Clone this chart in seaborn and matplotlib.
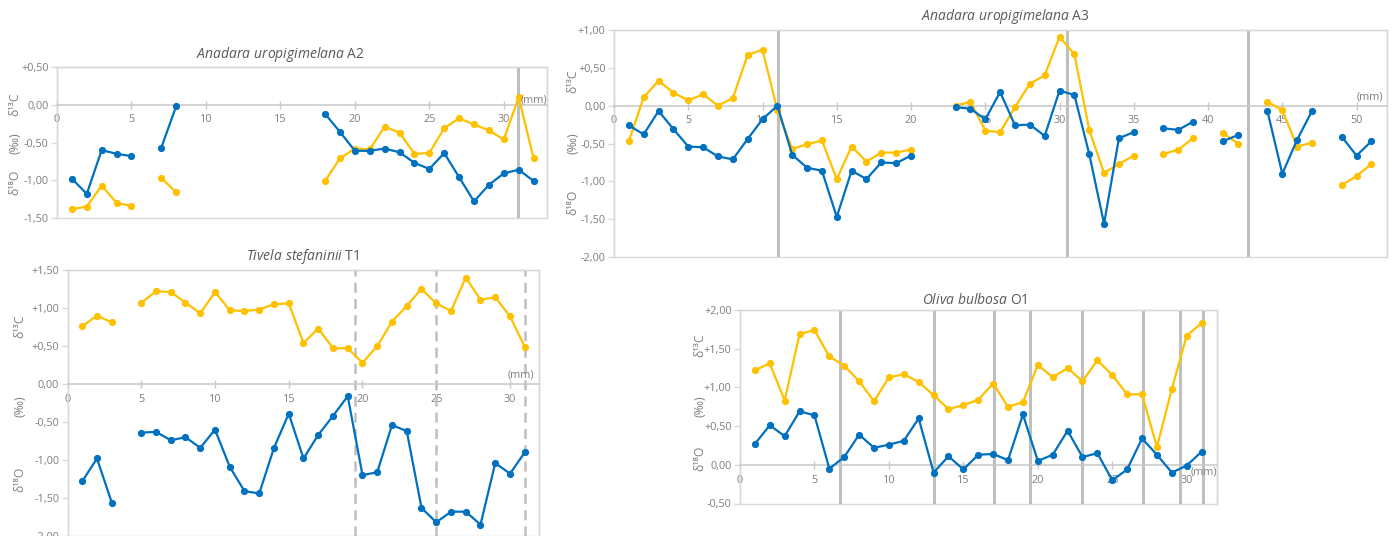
import numpy as np
import pandas as pd
import matplotlib
matplotlib.use("Agg")
import matplotlib.pyplot as plt
import seaborn as sns
from matplotlib.ticker import FuncFormatter, MultipleLocator
from matplotlib.patches import Rectangle

nan = np.nan

# ---- Anadara uropigimelana A2 ----
a2_mm = list(range(1, 33))
a2_d13c = [-1.38, -1.35, -1.07, -1.30, -1.34, nan, -0.97, -1.16,
           nan, nan, nan, nan, nan, nan, nan, nan, nan,
           -1.01, -0.71, -0.58, -0.59, -0.29, -0.37, -0.65, -0.64, -0.31,
           -0.18, -0.26, -0.34, -0.46, 0.10, -0.71]
a2_d18o = [-0.98, -1.18, -0.60, -0.65, -0.68, nan, -0.57, -0.02,
           nan, nan, nan, nan, nan, nan, nan, nan, nan,
           -0.12, -0.36, -0.61, -0.61, -0.58, -0.63, -0.77, -0.85, -0.64,
           -0.96, -1.28, -1.06, -0.91, -0.86, -1.01]
a2_marks = [30.95]

# ---- Tivela stefaninii T1 ----
t1_mm = list(range(1, 32))
t1_d13c = [0.76, 0.90, 0.81, nan, 1.07, 1.22, 1.21, 1.07, 0.93, 1.21,
           0.97, 0.96, 0.98, 1.05, 1.06, 0.54, 0.73, 0.47, 0.47, 0.28,
           0.50, 0.82, 1.03, 1.25, 1.06, 0.96, 1.40, 1.11, 1.14, 0.89, 0.49]
t1_d18o = [-1.28, -0.98, -1.56, nan, -0.64, -0.63, -0.74, -0.70, -0.84, -0.60,
           -1.09, -1.41, -1.44, -0.84, -0.39, -0.98, -0.67, -0.42, -0.16, -1.20,
           -1.16, -0.54, -0.62, -1.63, -1.82, -1.68, -1.68, -1.85, -1.04, -1.18, -0.90]
t1_marks = [19.5, 25.0, 31.05]

# ---- Anadara uropigimelana A3 ----
a3_mm = list(range(1, 52))
a3_d13c = [-0.47, 0.11, 0.33, 0.17, 0.07, 0.15, 0.00, 0.10, 0.67, 0.74,
           -0.06, -0.57, -0.51, -0.46, -0.97, -0.54, -0.74, -0.62, -0.62, -0.58,
           nan, nan, 0.00, 0.05, -0.33, -0.35, -0.02, 0.29, 0.40, 0.91,
           0.68, -0.32, -0.89, -0.77, -0.66, nan, -0.64, -0.58, -0.43, nan,
           -0.36, -0.50, nan, 0.05, -0.06, -0.54, -0.49, nan, -1.05, -0.93, -0.77]
a3_d18o = [-0.26, -0.38, -0.07, -0.31, -0.54, -0.55, -0.67, -0.71, -0.44, -0.18,
           0.00, -0.65, -0.82, -0.86, -1.47, -0.86, -0.97, -0.75, -0.76, -0.66,
           nan, nan, -0.02, -0.04, -0.18, 0.18, -0.26, -0.25, -0.40, 0.20,
           0.14, -0.64, -1.56, -0.43, -0.35, nan, -0.30, -0.32, -0.21, nan,
           -0.47, -0.39, nan, -0.07, -0.90, -0.45, -0.07, nan, -0.41, -0.66, -0.47]
a3_marks = [11.05, 30.5, 42.72]

# ---- Oliva bulbosa O1 ----
o1_mm = list(range(1, 32))
o1_d13c = [1.22, 1.31, 0.83, 1.69, 1.74, 1.40, 1.28, 1.08, 0.82, 1.13,
           1.17, 1.07, 0.90, 0.72, 0.77, 0.84, 1.05, 0.75, 0.81, 1.29,
           1.13, 1.25, 1.08, 1.35, 1.16, 0.91, 0.91, 0.23, 0.98, 1.67, 1.83]
o1_d18o = [0.27, 0.51, 0.37, 0.69, 0.64, -0.05, 0.10, 0.39, 0.22, 0.26,
           0.31, 0.60, -0.10, 0.11, -0.06, 0.13, 0.14, 0.06, 0.65, 0.05,
           0.13, 0.44, 0.10, 0.15, -0.20, -0.06, 0.34, 0.13, -0.10, -0.01, 0.17]
o1_marks = [6.7, 13.05, 17.05, 19.5, 23.0, 27.05, 29.55, 31.1]

YELLOW = "#FFC000"
BLUE = "#0070C0"
FRAME = "#D9D9D9"
ZERO = "#C8C8C8"
MARK = "#BFBFBF"
TICK = "#7F7F7F"
TITLE = "#595959"

sns.set_theme(style="white")
plt.rcParams["font.family"] = ["Open Sans", "DejaVu Sans"]
plt.rcParams["mathtext.fontset"] = "custom"
plt.rcParams["mathtext.it"] = "Open Sans:italic"
plt.rcParams["mathtext.rm"] = "Open Sans"

W, H = 1392, 536
fig = plt.figure(figsize=(W / 100, H / 100), dpi=100)


def fmt(v, _):
    if abs(v) < 1e-9:
        return "0,00"
    return f"{v:+.2f}".replace(".", ",")


def long_table(mm, d13c, d18o):
    rows = []
    for name, vals in (("d13C", d13c), ("d18O", d18o)):
        seg, gap = 0, True
        for x, v in zip(mm, vals):
            if np.isnan(v):
                gap = True
                continue
            if gap:
                seg += 1
                gap = False
            rows.append((x, v, name, seg))
    return pd.DataFrame(rows, columns=["mm", "value", "isotope", "segment"])


def panel(box, mm, d13c, d18o, xmax, ylim, marks, dashed,
          title, title_xy, ylab_x, ylab_ys, mm_xy):
    left, top, right, bottom = box
    ax = fig.add_axes([left / W, 1 - bottom / H, (right - left) / W, (bottom - top) / H])
    ax.set_facecolor("none")
    df = long_table(mm, d13c, d18o)
    sns.lineplot(data=df, x="mm", y="value", hue="isotope", units="segment",
                 estimator=None, sort=False,
                 palette={"d13C": YELLOW, "d18O": BLUE},
                 hue_order=["d13C", "d18O"],
                 marker="o", markersize=5.2, markeredgewidth=0,
                 linewidth=1.6, legend=False, ax=ax, zorder=3)
    for m in marks:
        ax.axvline(m, color=MARK, lw=2.2 if not dashed else 1.8,
                   ls=(0, (4, 2.5)) if dashed else "-", zorder=2)
    ax.set_xlim(0, xmax)
    ax.set_ylim(*ylim)
    ax.set_xlabel("")
    ax.set_ylabel("")
    ax.xaxis.set_major_locator(MultipleLocator(5))
    ax.yaxis.set_major_locator(MultipleLocator(0.5))
    ax.yaxis.set_major_formatter(FuncFormatter(fmt))
    for s in ("top", "right", "left"):
        ax.spines[s].set_color(FRAME)
        ax.spines[s].set_linewidth(1)
    ax.spines["bottom"].set_position(("data", 0))
    ax.spines["bottom"].set_color(ZERO)
    ax.spines["bottom"].set_linewidth(1.1)
    ax.add_patch(Rectangle((0, 0), 1, 1, transform=ax.transAxes, fill=False,
                           ec=FRAME, lw=1, zorder=0.5, clip_on=False))
    ax.tick_params(axis="x", direction="inout", length=6, width=1, color=ZERO,
                   labelcolor=TICK, labelsize=7.8, pad=4, bottom=True)
    ax.tick_params(axis="y", direction="out", length=4, width=1, color=FRAME,
                   labelcolor=TICK, labelsize=7.8, pad=2, left=True)
    ax.grid(False)

    fig.text(title_xy[0] / W, 1 - title_xy[1] / H, title, ha="center", va="center",
             fontsize=10, color=TITLE)
    for lab, y in zip(["δ¹³C", "(‰)", "δ¹⁸O"], ylab_ys):
        fig.text(ylab_x / W, 1 - y / H, lab, rotation=90, ha="center", va="center",
                 fontsize=8.8, color=TICK)
    fig.text(mm_xy[0] / W, 1 - mm_xy[1] / H, "(mm)", ha="center", va="center",
             fontsize=7.8, color=TICK)
    return ax


panel((57, 67, 547, 218), a2_mm, a2_d13c, a2_d18o, 32.9, (-1.5, 0.5), a2_marks, False,
      r"$\it{Anadara\ uropigimelana}$ A2", (280, 55), 15, (104, 143, 182), (534, 100))

panel((67.5, 270, 539.5, 536), t1_mm, t1_d13c, t1_d18o, 32.0, (-2.0, 1.5), t1_marks, True,
      r"$\it{Tivela\ stefaninii}$ T1", (303, 256), 20, (326, 406, 479), (521, 375))

panel((614, 30, 1387, 257), a3_mm, a3_d13c, a3_d18o, 52.05, (-2.0, 1.0), a3_marks, False,
      r"$\it{Anadara\ uropigimelana}$ A3", (1005, 17), 573, (81, 143, 202), (1370, 97))

panel((740, 310, 1216.5, 503.5), o1_mm, o1_d13c, o1_d18o, 32.0, (-0.5, 2.0), o1_marks, False,
      r"$\it{Oliva\ bulbosa}$ O1", (975, 300), 700, (345, 406, 458), (1204, 472))

fig.savefig("out.png", dpi=100, facecolor="white")
